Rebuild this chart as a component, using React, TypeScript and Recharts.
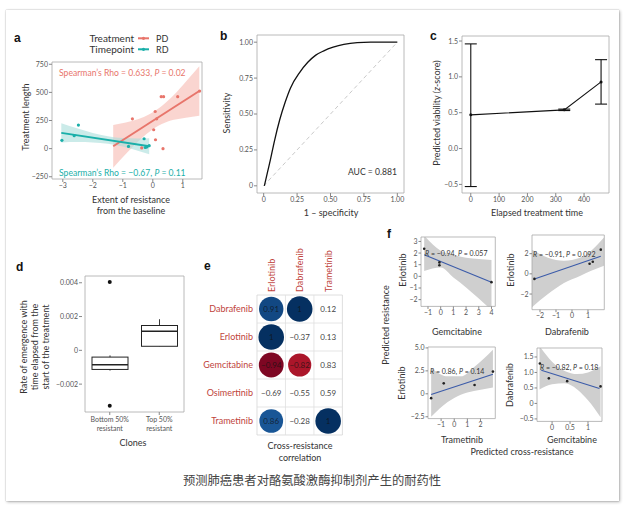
import React from 'react'
import {
  ComposedChart,
  Line,
  Area,
  Scatter,
  Bar,
  XAxis,
  YAxis,
  ErrorBar,
  ReferenceArea,
  ReferenceLine,
} from 'recharts'

const FONT = 'Lato, "Open Sans", sans-serif'
const FRAME = '#a8a8a8'
const TICK = { fontSize: 7, fill: '#555', fontFamily: FONT }
const TLINE = { stroke: '#888' }

// ---- a: treatment length vs resistance
const aXTicks = [-3, -2, -1, 0, 1]
const aYTicks = [-250, 0, 250, 500, 750]
const pdX = [-0.68, -0.37, 0.08, 0.13, 0.03, 0.09, 0.28, 0.36, 0.83, 1.56, 0.34]
const pdY = [265, 6, 330, 265, 168, 79, 462, 462, 462, 512, 0]
const rdX = [-3.03, -2.62, -2.48, -0.81, -0.29, -0.2, -0.12, -0.25]
const rdY = [74, 115, 209, 20, 88, 15, 26, 10]
const pdFitX = [-1.32, 1.55]
const pdFitY = [21, 512]
const rdFitX = [-3.05, -0.12]
const rdFitY = [140, 21]
const pdBandX = [-1.32, -0.9, -0.5, -0.1, 0.3, 0.7, 1.1, 1.55]
const pdBandLo = [-169, -47, 61, 152, 218, 256, 275, 292]
const pdBandHi = [211, 233, 261, 308, 378, 476, 595, 732]
const rdBandX = [-3.05, -2.5, -2.0, -1.5, -1.0, -0.5, -0.12]
const rdBandLo = [55, 58, 55, 44, 18, -19, -51]
const rdBandHi = [225, 178, 139, 110, 94, 91, 93]

// ---- b: ROC
const unitTicks = [0, 0.25, 0.5, 0.75, 1]
const rocX = [0.005, 0.03, 0.05, 0.08, 0.12, 0.16, 0.2, 0.27, 0.33, 0.39, 0.45, 0.52, 0.6, 0.7, 0.8, 1]
const rocY = [0, 0.1, 0.18, 0.31, 0.46, 0.58, 0.68, 0.79, 0.86, 0.91, 0.94, 0.965, 0.985, 0.997, 1, 1]
const diagX = [0, 1]
const diagY = [0, 1]

// ---- c: predicted viability
const cXTicks = [0, 100, 200, 300, 400]
const cYTicks = [-0.5, 0, 0.5, 1, 1.5]
const cTime = [0, 330, 460]
const cMean = [0.47, 0.54, 0.93]
const cLow = [-0.53, 0.53, 0.62]
const cHigh = [1.46, 0.55, 1.24]

// ---- d: rate of emergence boxplots
const dClones = ['Bottom 50%', 'Top 50%']
const dWhiskLo = [-0.0012, 0.00024]
const dQ1 = [-0.00113, 0.00024]
const dMedian = [-0.00085, 0.00113]
const dQ3 = [-0.0004, 0.00147]
const dWhiskHi = [-0.0003, 0.00184]
const dOutHi = [0.00405, null]
const dOutLo = [-0.00328, null]
const dYTicks = [-0.002, 0, 0.002, 0.004]

// ---- e: cross-resistance correlation
const eCols = ['Erlotinib', 'Dabrafenib', 'Trametinib']
const eRows = ['Dabrafenib', 'Erlotinib', 'Gemcitabine', 'Osimertinib', 'Trametinib']
const eErlotinib = [0.91, 1, -0.94, -0.69, 0.86]
const eDabrafenib = [1, -0.37, -0.82, -0.55, -0.28]
const eTrametinib = [0.12, 0.13, 0.83, 0.59, 1]
const eErlotinibSig = [true, true, true, false, true]
const eDabrafenibSig = [true, false, true, false, false]
const eTrametinibSig = [false, false, false, false, true]
const eBarTicks = [-1, -0.8, -0.6, -0.4, -0.2, 0, 0.2, 0.4, 0.6, 0.8, 1]

// ---- f: pairwise cross-resistance
const f1X = [-1.3, -0.1, -0.1, 4.0]
const f1Y = [2.37, 1.2, 0.95, -0.5]
const f1FitX = [-1.3, 4.0]
const f1FitY = [1.86, -0.5]
const f1BandX = [-1.3, 0, 1.0, 2.0, 3.0, 4.0]
const f1BandLo = [0.45, 0.75, -0.1, -0.95, -1.9, -2.9]
const f1BandHi = [3.5, 2.2, 1.85, 1.6, 1.5, 1.4]

const f2X = [-2.35, 1.1, 1.3, 1.8]
const f2Y = [-0.5, 1.0, 1.2, 2.4]
const f2FitX = [-2.35, 1.8]
const f2FitY = [-0.5, 1.75]
const f2BandX = [-2.5, -1.5, -0.5, 0.5, 1.2, 2.0]
const f2BandLo = [-3.3, -2.0, -0.9, -0.2, 0.3, 0.8]
const f2BandHi = [2.4, 1.6, 1.3, 1.6, 2.3, 3.6]

const f3X = [-1.76, -0.8, 1.55, 2.95]
const f3Y = [-0.47, 1.14, 0.96, 2.42]
const f3FitX = [-1.76, 2.95]
const f3FitY = [-0.07, 2.14]
const f3BandX = [-1.76, -0.5, 0.5, 1.5, 2.95]
const f3BandLo = [-2.5, -0.9, -0.1, 0.3, 0.7]
const f3BandHi = [2.85, 1.9, 1.9, 2.9, 4.8]

const f4X = [-0.34, -0.09, 0.42, 1.35]
const f4Y = [1.29, 0.81, 0.72, 0.55]
const f4FitX = [-0.3, 1.32]
const f4FitY = [1.07, 0.48]
const f4BandX = [-0.35, 0, 0.35, 0.7, 1.0, 1.35]
const f4BandLo = [0.45, 0.62, 0.65, 0.45, 0.1, -0.45]
const f4BandHi = [1.85, 1.35, 1.05, 0.95, 1.0, 1.2]

// helpers
const pts = (xs: number[], ys: number[]) => xs.map((x, i) => ({ x, y: ys[i] }))
const band = (xs: number[], lo: number[], hi: number[]) => xs.map((x, i) => ({ x, band: [lo[i], hi[i]] }))
const minus = (s: string) => s.replace('-', '\u2212')
const fmt = (v: number) => minus(String(v))

const M = 3
function Plot({ x, y, w, h, yw = 0, yr = 0, xh = 0, xtop = 0, data, children }: any) {
  return (
    <div style={{ position: 'absolute', left: x - yw - M, top: y - xtop - M }}>
      <ComposedChart
        width={w + yw + yr + 2 * M}
        height={h + xh + xtop + 2 * M}
        data={data}
        margin={{ top: M, right: M, bottom: M, left: M }}
      >
        {children}
      </ComposedChart>
    </div>
  )
}

const dot = (color: string, r = 1.6) => (p: any) =>
  p.cx == null ? <g /> : <circle cx={p.cx} cy={p.cy} r={r} fill={color} />

const frame = (xd: any[], yd: number[], stroke = FRAME) => (
  <ReferenceArea x1={xd[0]} x2={xd[1]} y1={yd[0]} y2={yd[1]} fill="none" stroke={stroke} strokeWidth={0.8} ifOverflow="visible" />
)

// RdBu colour scale for the correlation circles
const RDBU = ['#67001F', '#B2182B', '#D6604D', '#F4A582', '#FDDBC7', '#F7F7F7', '#D1E5F0', '#92C5DE', '#4393C3', '#2166AC', '#053061']
function rdbu(v: number) {
  const t = ((v + 1) / 2) * 10
  const i = Math.min(9, Math.floor(t))
  const f = t - i
  const a = RDBU[i], b = RDBU[i + 1]
  const c = [1, 3, 5].map((k) => {
    const p = parseInt(a.slice(k, k + 2), 16), q = parseInt(b.slice(k, k + 2), 16)
    return Math.round(p + (q - p) * f).toString(16).padStart(2, '0')
  })
  return '#' + c.join('')
}

const eValues = [eErlotinib, eDabrafenib, eTrametinib]
const eSig = [eErlotinibSig, eDabrafenibSig, eTrametinibSig]
const eCells = eCols.flatMap((_, ci) => eRows.map((_, ri) => ({ x: ci, y: ri, v: eValues[ci][ri], sig: eSig[ci][ri] })))

const CellShape = (p: any) => {
  const { cx, cy, payload } = p
  const v = payload.v
  const r = payload.sig ? 12.8 * Math.sqrt(Math.abs(v)) : 0
  const label = v === 1 ? '1' : minus(v.toFixed(2))
  return (
    <g>
      {r > 0 && <circle cx={cx} cy={cy} r={r} fill={rdbu(v)} />}
      <text x={cx} y={cy} textAnchor="middle" dominantBaseline="central" fontSize={8} fontFamily={FONT}
        fill={r > 0 ? '#111' : '#444'} fillOpacity={r > 0 ? 0.75 : 1}>{label}</text>
    </g>
  )
}

const ColTick = (p: any) => (
  <text transform={`translate(${p.x},${p.y - 1}) rotate(-90)`} textAnchor="start" dominantBaseline="central"
    fontSize={9} fill="#C0433B" fontFamily={FONT}>{eCols[p.payload.value]}</text>
)

const dData = dClones.map((name, i) => ({
  name,
  range: [dWhiskLo[i], dWhiskHi[i]],
  q1: dQ1[i],
  med: dMedian[i],
  q3: dQ3[i],
  outHi: dOutHi[i],
  outLo: dOutLo[i],
}))

const BoxShape = (p: any) => {
  const { x, y, width, height, payload } = p
  const [lo, hi] = payload.range
  const py = (v: number) => y + ((hi - v) / (hi - lo)) * height
  const cx = x + width / 2
  return (
    <g stroke="#222" fill="#fff">
      <line x1={cx} x2={cx} y1={py(hi)} y2={py(lo)} strokeWidth={0.9} />
      <rect x={x} y={py(payload.q3)} width={width} height={py(payload.q1) - py(payload.q3)} strokeWidth={1} />
      <line x1={x} x2={x + width} y1={py(payload.med)} y2={py(payload.med)} strokeWidth={1.5} />
    </g>
  )
}

const ClonesTick = (p: any) => (
  <text x={p.x} y={p.y + 6} textAnchor="middle" fontSize={7} fill="#555" fontFamily={FONT}>
    <tspan x={p.x} dy={0}>{p.payload.value}</tspan>
    <tspan x={p.x} dy={8.5}>resistant</tspan>
  </text>
)

function FPanel({ x, y, w, h, yw, xd, yd, xt, yt, yfmt, p, fit, bnd }: any) {
  return (
    <Plot x={x} y={y} w={w} h={h} yw={yw} xh={13}>
      <XAxis type="number" dataKey="x" domain={xd} ticks={xt} tick={TICK} tickSize={2.5} tickMargin={1}
        axisLine={false} tickLine={TLINE} allowDataOverflow height={13} tickFormatter={fmt} interval={0} />
      <YAxis type="number" domain={yd} ticks={yt} tick={TICK} tickSize={2.5} tickMargin={1}
        axisLine={false} tickLine={TLINE} allowDataOverflow width={yw} tickFormatter={yfmt || fmt} interval={0} />
      <Area data={bnd} dataKey="band" type="monotone" stroke="none" fill="#cfcfcf" fillOpacity={1} isAnimationActive={false} />
      <Line data={fit} dataKey="y" stroke="#3B5BA9" strokeWidth={1.1} dot={false} isAnimationActive={false} />
      <Scatter data={p} dataKey="y" shape={dot('#222', 1.3)} isAnimationActive={false} />
      {frame(xd, yd)}
    </Plot>
  )
}

const f1 = (v: number) => minus(v.toFixed(1))

export default function App() {
  const axisTitle = { fontSize: 9, fill: '#333', fontFamily: FONT }
  const letter = { fontSize: 12, fontWeight: 700, fill: '#111', fontFamily: '"Liberation Sans", Arial, sans-serif' }
  const rot = (x: number, y: number) => `translate(${x},${y}) rotate(-90)`
  return (
    <div style={{ position: 'absolute', left: 0, top: 0, width: 630, height: 511, background: '#fff', overflow: 'hidden' }}>
      <div style={{ position: 'absolute', left: 6, top: 10, width: 613, height: 491, background: '#fff',
        boxShadow: '0 0 1px rgba(0,0,0,0.35), 1px 1px 3px rgba(0,0,0,0.3)' }} />

      {/* a */}
      <Plot x={52} y={62} w={150} h={117} yw={28} xh={14}>
        <XAxis type="number" dataKey="x" domain={[-3.36, 1.64]} ticks={aXTicks} tick={TICK} tickSize={3} tickMargin={1}
          axisLine={false} tickLine={TLINE} allowDataOverflow height={14} tickFormatter={fmt} />
        <YAxis type="number" domain={[-270, 770]} ticks={aYTicks} tick={TICK} tickSize={3} tickMargin={1}
          axisLine={false} tickLine={TLINE} allowDataOverflow width={28} tickFormatter={fmt} />
        <Area data={band(pdBandX, pdBandLo, pdBandHi)} dataKey="band" type="monotone" stroke="none" fill="#F6B9B1" fillOpacity={0.6} isAnimationActive={false} />
        <Area data={band(rdBandX, rdBandLo, rdBandHi)} dataKey="band" type="monotone" stroke="none" fill="#A9DEDA" fillOpacity={0.6} isAnimationActive={false} />
        <Line data={pts(pdFitX, pdFitY)} dataKey="y" stroke="#E8756B" strokeWidth={2} dot={false} isAnimationActive={false} />
        <Line data={pts(rdFitX, rdFitY)} dataKey="y" stroke="#1AAFA9" strokeWidth={2} dot={false} isAnimationActive={false} />
        <Scatter data={pts(pdX, pdY)} dataKey="y" shape={dot('#E8756B')} isAnimationActive={false} />
        <Scatter data={pts(rdX, rdY)} dataKey="y" shape={dot('#1AAFA9')} isAnimationActive={false} />
        {frame([-3.36, 1.64], [-270, 770])}
      </Plot>

      {/* b */}
      <Plot x={257} y={35} w={147} h={158} yw={26} xh={14}>
        <XAxis type="number" dataKey="x" domain={[-0.05, 1.05]} ticks={unitTicks} tick={TICK} tickSize={3} tickMargin={1}
          axisLine={false} tickLine={TLINE} height={14} tickFormatter={(v: number) => (v === 0 ? '0' : v.toFixed(2))} />
        <YAxis type="number" domain={[-0.05, 1.05]} ticks={unitTicks} tick={TICK} tickSize={3} tickMargin={1}
          axisLine={false} tickLine={TLINE} width={26} tickFormatter={(v: number) => (v === 0 ? '0' : v.toFixed(2))} />
        <Line data={pts(diagX, diagY)} dataKey="y" stroke="#c9c9c9" strokeWidth={1} strokeDasharray="4 3" dot={false} isAnimationActive={false} />
        <Line data={pts(rocX, rocY)} dataKey="y" type="monotone" stroke="#111" strokeWidth={1.3} dot={false} isAnimationActive={false} />
        {frame([-0.05, 1.05], [-0.05, 1.05])}
      </Plot>

      {/* c */}
      <Plot x={462} y={36} w={147} h={157} yw={22} xh={14}>
        <XAxis type="number" dataKey="x" domain={[-31, 488]} ticks={cXTicks} tick={TICK} tickSize={3} tickMargin={1}
          axisLine={false} tickLine={TLINE} height={14} />
        <YAxis type="number" domain={[-0.62, 1.57]} ticks={cYTicks} tick={TICK} tickSize={3} tickMargin={1}
          axisLine={false} tickLine={TLINE} width={22} tickFormatter={f1} />
        <Line data={cTime.map((x, i) => ({ x, y: cMean[i], err: [cMean[i] - cLow[i], cHigh[i] - cMean[i]] }))}
          dataKey="y" stroke="#111" strokeWidth={1.1} dot={{ r: 1.5, fill: '#111', stroke: 'none' }} isAnimationActive={false}>
          <ErrorBar dataKey="err" direction="y" width={6} stroke="#111" strokeWidth={1.1} />
        </Line>
        {frame([-31, 488], [-0.62, 1.57])}
      </Plot>

      {/* d */}
      <Plot x={82} y={276} w={105} h={136} yw={34} xh={26} data={dData}>
        <XAxis type="category" dataKey="name" tick={<ClonesTick />} tickSize={3} tickMargin={1} interval={0}
          axisLine={false} tickLine={TLINE} height={26} padding={{ left: 3, right: 3 }} />
        <YAxis type="number" domain={[-0.00365, 0.0044]} ticks={dYTicks} tick={TICK} tickSize={3} tickMargin={1}
          axisLine={false} tickLine={TLINE} width={34} allowDataOverflow tickFormatter={(v: number) => (v === 0 ? '0' : minus(v.toFixed(3)))} />
        <Bar dataKey="range" barSize={36} shape={BoxShape} isAnimationActive={false} />
        <Line dataKey="outHi" stroke="none" dot={{ r: 2, fill: '#111', stroke: 'none' }} isAnimationActive={false} />
        <Line dataKey="outLo" stroke="none" dot={{ r: 2, fill: '#111', stroke: 'none' }} isAnimationActive={false} />
        {frame(dClones, [-0.00365, 0.0044])}
      </Plot>

      {/* e */}
      <Plot x={257.3} y={295} w={85.4} h={140} yw={62} xtop={46}>
        <XAxis type="number" dataKey="x" orientation="top" domain={[-0.5, 2.5]} ticks={[0, 1, 2]} tick={<ColTick />}
          tickSize={0} tickMargin={2} axisLine={false} tickLine={false} height={46} interval={0} />
        <YAxis type="number" domain={[-0.5, 4.5]} reversed ticks={[0, 1, 2, 3, 4]} tickFormatter={(v: number) => eRows[v]}
          tick={{ fontSize: 9, fill: '#C0433B', fontFamily: FONT }} tickSize={0} tickMargin={4}
          axisLine={false} tickLine={false} width={62} interval={0} />
        {[0.5, 1.5].map((v) => <ReferenceLine key={'x' + v} x={v} stroke="#e0e0e0" strokeWidth={0.8} />)}
        {[0.5, 1.5, 2.5, 3.5].map((v) => <ReferenceLine key={'y' + v} y={v} stroke="#e0e0e0" strokeWidth={0.8} />)}
        {frame([-0.5, 2.5], [-0.5, 4.5], '#d6d6d6')}
        <Scatter data={eCells} dataKey="y" shape={CellShape} isAnimationActive={false} />
      </Plot>

      {/* e colour bar */}
      <Plot x={342.8} y={295} w={4.2} h={140} yr={20}>
        <defs>
          <linearGradient id="rdbuBar" x1="0" y1="0" x2="0" y2="1">
            {RDBU.slice().reverse().map((c, i) => <stop key={i} offset={i / 10} stopColor={c} />)}
          </linearGradient>
        </defs>
        <XAxis type="number" dataKey="x" domain={[0, 1]} hide />
        <YAxis type="number" orientation="right" domain={[-1, 1]} ticks={eBarTicks} tick={TICK} tickSize={2} tickMargin={1}
          axisLine={false} tickLine={{ stroke: '#fff' }} width={20} interval={0} tickFormatter={(v: number) => (v === 0 ? '0' : f1(v))} />
        <ReferenceArea x1={0} x2={1} y1={-1} y2={1} fill="url(#rdbuBar)" fillOpacity={1} stroke="none" ifOverflow="visible" />
      </Plot>

      {/* f */}
      <FPanel x={420.7} y={237.3} w={74.3} h={69.4} yw={14} xd={[-1.55, 4.3]} yd={[-2.58, 3.38]}
        xt={[-1, 0, 1, 2, 3, 4]} yt={[-2, -1, 0, 1, 2, 3]}
        p={pts(f1X, f1Y)} fit={pts(f1FitX, f1FitY)} bnd={band(f1BandX, f1BandLo, f1BandHi)} />
      <FPanel x={531.7} y={235} w={72.3} h={74.7} yw={14} xd={[-2.5, 2.02]} yd={[-3.55, 3.85]}
        xt={[-2, -1, 0, 1]} yt={[-2, 0, 2]}
        p={pts(f2X, f2Y)} fit={pts(f2FitX, f2FitY)} bnd={band(f2BandX, f2BandLo, f2BandHi)} />
      <FPanel x={427.7} y={346.7} w={67.3} h={71.6} yw={18} xd={[-2.0, 3.13]} yd={[-2.7, 5.1]}
        xt={[-1, 0, 1, 2]} yt={[-2.5, 0, 2.5, 5]} yfmt={(v: number) => (v === 0 ? '0' : f1(v))}
        p={pts(f3X, f3Y)} fit={pts(f3FitX, f3FitY)} bnd={band(f3BandX, f3BandLo, f3BandHi)} />
      <FPanel x={536.7} y={348.3} w={65} h={73.4} yw={18} xd={[-0.42, 1.39]} yd={[-0.58, 1.79]}
        xt={[0, 0.5, 1]} yt={[-0.5, 0, 0.5, 1, 1.5]} yfmt={(v: number) => (v === 0 ? '0' : f1(v))}
        p={pts(f4X, f4Y)} fit={pts(f4FitX, f4FitY)} bnd={band(f4BandX, f4BandLo, f4BandHi)} />

      {/* text overlay */}
      <svg width={630} height={511} style={{ position: 'absolute', left: 0, top: 0, pointerEvents: 'none' }}>
        {/* letters */}
        <text x={14} y={42} {...letter}>a</text>
        <text x={220} y={40} {...letter}>b</text>
        <text x={430} y={40} {...letter}>c</text>
        <text x={16} y={271} {...letter}>d</text>
        <text x={204} y={270} {...letter}>e</text>
        <text x={387} y={238} {...letter}>f</text>

        {/* a legend + notes */}
        <g fontFamily={FONT} fontSize={10} fill="#333">
          <text x={134} y={41.5} textAnchor="end">Treatment</text>
          <text x={134} y={52.5} textAnchor="end">Timepoint</text>
          <line x1={138} x2={149} y1={38.3} y2={38.3} stroke="#E8756B" strokeWidth={2} />
          <circle cx={143.5} cy={38.3} r={1.6} fill="#E8756B" />
          <line x1={138} x2={149} y1={49.3} y2={49.3} stroke="#1AAFA9" strokeWidth={2} />
          <circle cx={143.5} cy={49.3} r={1.6} fill="#1AAFA9" />
          <text x={156} y={41.5} fontSize={9}>PD</text>
          <text x={156} y={52.5} fontSize={9}>RD</text>
        </g>
        <text x={59} y={76} fontSize={8.6} fill="#E8756B" fontFamily={FONT}>
          Spearman’s Rho = 0.633, <tspan fontStyle="italic">P</tspan> = 0.02
        </text>
        <text x={59} y={176} fontSize={8.6} fill="#1AAFA9" fontFamily={FONT}>
          Spearman’s Rho = −0.67, <tspan fontStyle="italic">P</tspan> = 0.11
        </text>
        <text transform={rot(25, 117)} textAnchor="middle" dominantBaseline="central" {...axisTitle}>Treatment length</text>
        <text x={131} y={203} textAnchor="middle" {...axisTitle}>Extent of resistance</text>
        <text x={131} y={214} textAnchor="middle" {...axisTitle}>from the baseline</text>

        {/* b */}
        <text x={397} y={175} textAnchor="end" fontSize={8.6} fill="#333" fontFamily={FONT}>AUC = 0.881</text>
        <text transform={rot(226, 113)} textAnchor="middle" dominantBaseline="central" {...axisTitle}>Sensitivity</text>
        <text x={331} y={216} textAnchor="middle" {...axisTitle}>1 – specificity</text>

        {/* c */}
        <text transform={rot(436, 113)} textAnchor="middle" dominantBaseline="central" {...axisTitle}>
          Predicted viability (<tspan fontStyle="italic">z</tspan>-score)
        </text>
        <text x={537} y={216} textAnchor="middle" {...axisTitle}>Elapsed treatment time</text>

        {/* d */}
        <text transform={rot(23, 347)} textAnchor="middle" dominantBaseline="central" {...axisTitle}>Rate of emergence with</text>
        <text transform={rot(34, 347)} textAnchor="middle" dominantBaseline="central" {...axisTitle}>time elapsed from the</text>
        <text transform={rot(45, 347)} textAnchor="middle" dominantBaseline="central" {...axisTitle}>start of the treatment</text>
        <text x={133} y={446} textAnchor="middle" {...axisTitle}>Clones</text>

        {/* e */}
        <text x={300} y={449} textAnchor="middle" {...axisTitle}>Cross-resistance</text>
        <text x={300} y={461} textAnchor="middle" {...axisTitle}>correlation</text>

        {/* f */}
        <g fontFamily={FONT} fontSize={7} fill="#333">
          <text x={425} y={255.5}><tspan fontStyle="italic">R</tspan> = −0.94, <tspan fontStyle="italic">P</tspan> = 0.057</text>
          <text x={533} y={256.5}><tspan fontStyle="italic">R</tspan> = −0.91, <tspan fontStyle="italic">P</tspan> = 0.092</text>
          <text x={430} y={374}><tspan fontStyle="italic">R</tspan> = 0.86, <tspan fontStyle="italic">P</tspan> = 0.14</text>
          <text x={540} y={370}><tspan fontStyle="italic">R</tspan> = −0.82, <tspan fontStyle="italic">P</tspan> = 0.18</text>
        </g>
        <text transform={rot(385, 325)} textAnchor="middle" dominantBaseline="central" {...axisTitle}>Predicted resistance</text>
        <text transform={rot(402, 270)} textAnchor="middle" dominantBaseline="central" {...axisTitle}>Erlotinib</text>
        <text transform={rot(510, 270)} textAnchor="middle" dominantBaseline="central" {...axisTitle}>Erlotinib</text>
        <text transform={rot(401, 383)} textAnchor="middle" dominantBaseline="central" {...axisTitle}>Erlotinib</text>
        <text transform={rot(509, 385)} textAnchor="middle" dominantBaseline="central" {...axisTitle}>Dabrafenib</text>
        <text x={457} y={335} textAnchor="middle" {...axisTitle}>Gemcitabine</text>
        <text x={567} y={335} textAnchor="middle" {...axisTitle}>Dabrafenib</text>
        <text x={462} y={443} textAnchor="middle" {...axisTitle}>Trametinib</text>
        <text x={572} y={443} textAnchor="middle" {...axisTitle}>Gemcitabine</text>
        <text x={522} y={455} textAnchor="middle" {...axisTitle}>Predicted cross-resistance</text>

        {/* caption */}
        <text x={312} y={484.5} textAnchor="middle" fontSize={12.3} fill="#444"
          fontFamily='"Noto Sans CJK SC", sans-serif'>预测肺癌患者对酪氨酸激酶抑制剂产生的耐药性</text>
      </svg>
    </div>
  )
}
